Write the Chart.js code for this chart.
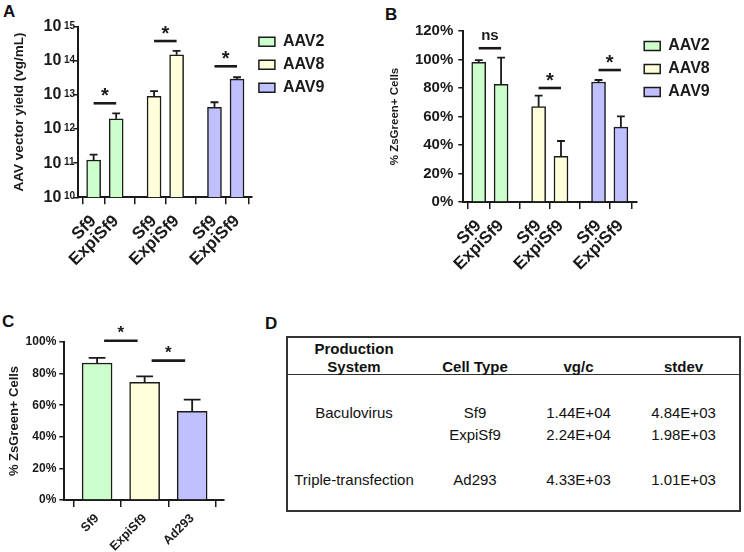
<!DOCTYPE html>
<html>
<head>
<meta charset="utf-8">
<title>AAV production in Sf9 / ExpiSf9</title>
<script src="https://cdn.jsdelivr.net/npm/chart.js@4.4.1/dist/chart.umd.min.js"></script>
<style>
  body { margin: 0; background: #fff; font-family: Arial, "Liberation Sans", sans-serif; color: #111; }
  #page { position: relative; width: 744px; height: 552px; overflow: hidden; }
  canvas { position: absolute; }
  .tag { position: absolute; font-weight: bold; font-size: 17px; line-height: 1; }
  #tableD { position: absolute; left: 286px; top: 336px; width: 451px; height: 172px; border: 2px solid #333; }
  #tableD .cell { position: absolute; font-size: 15px; white-space: nowrap; transform: translate(-50%, -50%); }
  #tableD .head { font-weight: bold; }
  #tableD .rule { position: absolute; left: 0; right: 0; top: 36px; border-top: 1.5px solid #333; }
</style>
</head>
<body>
<div id="page">
  <div class="tag" style="left:3px;top:3px">A</div>
  <div class="tag" style="left:385px;top:6px">B</div>
  <div class="tag" style="left:2px;top:313px">C</div>
  <div class="tag" style="left:265px;top:315px">D</div>
  <canvas id="chartA" width="372" height="276" style="left:0;top:0"></canvas>
  <canvas id="chartB" width="372" height="276" style="left:372px;top:0"></canvas>
  <canvas id="chartC" width="250" height="252" style="left:0;top:300px"></canvas>
  <div id="tableD"><div class="rule"></div></div>
</div>
<script>
// ---- data ----
var serotypes = ['AAV2', 'AAV8', 'AAV9'];
var cellLines = ['Sf9', 'ExpiSf9'];

// A: AAV vector yield (vg/mL), mean and SD
var yieldAAV2 = [1.24e11, 2.0e12];
var yieldAAV8 = [9.1e12, 1.5e14];
var yieldAAV9 = [4.35e12, 2.9e13];
var yieldSdAAV2 = [0.53e11, 0.9e12];
var yieldSdAAV8 = [3.9e12, 4.5e13];
var yieldSdAAV9 = [1.75e12, 0.4e13];
var yieldTicks = [1e10, 1e11, 1e12, 1e13, 1e14, 1e15];
var yieldSigLevels = [5.7e12, 3.8e14, 6.9e13];
var yieldSigLabels = ['*', '*', '*'];

// B: % ZsGreen+ cells per serotype
var pctAAV2 = [98.0, 82.6];
var pctAAV8 = [66.9, 32.1];
var pctAAV9 = [84.2, 52.6];
var pctSdAAV2 = [1.6, 18.7];
var pctSdAAV8 = [7.7, 10.7];
var pctSdAAV9 = [1.4, 7.5];
var pctSigLevels = [107.9, 80, 92.6];
var pctSigLabels = ['ns', '*', '*'];

// C: % ZsGreen+ cells per cell type
var cellTypes = ['Sf9', 'ExpiSf9', 'Ad293'];
var cellPct = [86.7, 74.5, 56.1];
var cellPctSd = [3.2, 3.8, 7.4];
var cellSigPairs = [[0, 1], [1, 2]];
var cellSigLevels = [100.8, 88.2];

// D: vector genomes per cell
var tableHeads = ['Cell Type', 'vg/c', 'stdev'];
var tableSystems = ['Baculovirus', '', 'Triple-transfection'];
var tableCells = ['Sf9', 'ExpiSf9', 'Ad293'];
var tableVgc = ['1.44E+04', '2.24E+04', '4.33E+03'];
var tableStdev = ['4.84E+03', '1.98E+03', '1.01E+03'];

// ---- styling ----
var FONT = 'Arial, "Liberation Sans", sans-serif';
var INK = '#1a1a1a';
var fills = ['#ccffcc', '#ffffdc', '#c0c0ff'];
var GROUP_STEP = 2.68;

Chart.defaults.font.family = FONT;
Chart.defaults.color = INK;

// bar positions on a linear x axis: two bars per serotype, wider gap between groups
var groupPositions = [];
serotypes.forEach(function(s, g) {
    cellLines.forEach(function(c, k) { groupPositions.push(g * GROUP_STEP + k); });
});
var groupLabels = [];
serotypes.forEach(function() { groupLabels = groupLabels.concat(cellLines); });

function groupedDatasets(means, sds) {
    return serotypes.map(function(name, g) {
        return {
            label: name,
            data: cellLines.map(function(c, k) { return { x: g * GROUP_STEP + k, y: means[g][k] }; }),
            errors: sds[g],
            backgroundColor: fills[g],
            borderColor: INK,
            borderWidth: 1.5,
            barThickness: 14,
            grouped: false
        };
    });
}

function xScale(min, max, positions, labels, fontSize, height, pad) {
    return {
        type: 'linear', min: min, max: max, offset: false,
        afterBuildTicks: function(s) { s.ticks = positions.map(function(v) { return { value: v }; }); },
        afterFit: function(s) { s.height = height; },
        ticks: {
            autoSkip: false, minRotation: 45, maxRotation: 45, padding: pad, color: INK,
            font: { size: fontSize, weight: 'bold' },
            callback: function(v, i) { return labels[i]; }
        },
        grid: { drawOnChartArea: false, drawTicks: true, tickLength: 7, color: INK, lineWidth: 1.5 },
        border: { color: INK, width: 2 }
    };
}

var yGrid = { drawOnChartArea: false, drawTicks: true, tickLength: 5, color: INK, lineWidth: 1.5 };
var yBorder = { color: INK, width: 2 };

// upper error whiskers with caps
var errorBars = {
    id: 'errorBars',
    afterDatasetsDraw: function(chart) {
        var ctx = chart.ctx, y = chart.scales.y;
        ctx.save();
        ctx.strokeStyle = INK;
        ctx.lineWidth = 1.8;
        chart.data.datasets.forEach(function(ds, d) {
            chart.getDatasetMeta(d).data.forEach(function(bar, i) {
                var top = y.getPixelForValue(ds.data[i].y + ds.errors[i]);
                var half = bar.width * 0.28;
                ctx.beginPath();
                ctx.moveTo(bar.x, bar.y);
                ctx.lineTo(bar.x, top);
                ctx.moveTo(bar.x - half, top);
                ctx.lineTo(bar.x + half, top);
                ctx.stroke();
            });
        });
        ctx.restore();
    }
};

// significance line + label between two x positions
function sigBars(pairs, levels, labels, inset, starSize) {
    return {
        id: 'sigBars',
        afterDatasetsDraw: function(chart) {
            var ctx = chart.ctx, xs = chart.scales.x, ys = chart.scales.y;
            ctx.save();
            ctx.strokeStyle = INK;
            ctx.fillStyle = INK;
            ctx.lineWidth = 2.6;
            ctx.textAlign = 'center';
            ctx.textBaseline = 'alphabetic';
            levels.forEach(function(lv, i) {
                var x1 = xs.getPixelForValue(pairs[i][0]) + inset;
                var x2 = xs.getPixelForValue(pairs[i][1]) - inset;
                var y = ys.getPixelForValue(lv);
                ctx.beginPath();
                ctx.moveTo(x1, y);
                ctx.lineTo(x2, y);
                ctx.stroke();
                if (labels[i] === 'ns') {
                    ctx.font = 'bold 15px ' + FONT;
                    ctx.fillText('ns', (x1 + x2) / 2, y - 8);
                } else {
                    ctx.font = 'bold ' + starSize + 'px ' + FONT;
                    ctx.fillText(labels[i], (x1 + x2) / 2, y - (starSize > 18 ? 1 : 2.5));
                }
            });
            ctx.restore();
        }
    };
}

// superscript exponents next to the "10" tick labels
var exponentLabels = {
    id: 'exponentLabels',
    afterDraw: function(chart) {
        var ctx = chart.ctx, y = chart.scales.y;
        ctx.save();
        ctx.font = 'bold 10px ' + FONT;
        ctx.fillStyle = INK;
        ctx.textAlign = 'left';
        ctx.textBaseline = 'alphabetic';
        y.ticks.forEach(function(t) {
            ctx.fillText(String(Math.round(Math.log10(t.value))), y.right - 14.3, y.getPixelForValue(t.value) + 2);
        });
        ctx.restore();
    }
};

var legendOpts = {
    position: 'right', align: 'start',
    labels: { boxWidth: 16, boxHeight: 9, padding: 7, color: INK, font: { size: 16, weight: 'bold' } }
};

var pairsAB = serotypes.map(function(s, g) { return [g * GROUP_STEP, g * GROUP_STEP + 1]; });

// ---- A ----
new Chart(document.getElementById('chartA'), {
    type: 'bar',
    data: { datasets: groupedDatasets([yieldAAV2, yieldAAV8, yieldAAV9], [yieldSdAAV2, yieldSdAAV8, yieldSdAAV9]) },
    options: {
        responsive: false, animation: false,
        layout: { padding: { left: 0, top: 26.7, right: 37.6, bottom: 0 } },
        plugins: { legend: legendOpts, tooltip: { enabled: false } },
        scales: {
            x: xScale(-0.68, 7.02, groupPositions, groupLabels, 17, 78.7, 7),
            y: {
                type: 'logarithmic', min: 1e10, max: 1e15,
                afterBuildTicks: function(s) { s.ticks = yieldTicks.map(function(v) { return { value: v }; }); },
                afterFit: function(s) { s.width = 78.3; },
                ticks: { autoSkip: false, padding: 12, color: INK, font: { size: 16, weight: 'bold' }, callback: function() { return '10'; } },
                grid: yGrid, border: yBorder,
                title: { display: true, text: 'AAV vector yield (vg/mL)', color: INK, font: { size: 13.5, weight: 'bold' }, padding: { top: 11, bottom: 0 } }
            }
        }
    },
    plugins: [errorBars, sigBars(pairsAB, yieldSigLevels, yieldSigLabels, 0, 20), exponentLabels]
});

// ---- B ----
new Chart(document.getElementById('chartB'), {
    type: 'bar',
    data: { datasets: groupedDatasets([pctAAV2, pctAAV8, pctAAV9], [pctSdAAV2, pctSdAAV8, pctSdAAV9]) },
    options: {
        responsive: false, animation: false,
        layout: { padding: { left: 0, top: 31, right: 24.3, bottom: 0 } },
        plugins: { legend: legendOpts, tooltip: { enabled: false } },
        scales: {
            x: xScale(-0.69, 7.09, groupPositions, groupLabels, 17, 74, 7),
            y: {
                min: 0, max: 120,
                afterFit: function(s) { s.width = 91.3; },
                ticks: { stepSize: 20, padding: 5, color: INK, font: { size: 15, weight: 'bold' }, callback: function(v) { return v + '%'; } },
                grid: yGrid, border: yBorder,
                title: { display: true, text: '% ZsGreen+ Cells', color: INK, font: { size: 11.5, weight: 'bold' }, padding: { top: 16, bottom: 0 } }
            }
        }
    },
    plugins: [errorBars, sigBars(pairsAB, pctSigLevels, pctSigLabels, 0, 20)]
});

// ---- C ----
new Chart(document.getElementById('chartC'), {
    type: 'bar',
    data: {
        datasets: [{
            label: '% ZsGreen+ Cells',
            data: cellTypes.map(function(c, i) { return { x: i, y: cellPct[i] }; }),
            errors: cellPctSd,
            backgroundColor: fills,
            borderColor: INK,
            borderWidth: 1.5,
            barThickness: 30
        }]
    },
    options: {
        responsive: false, animation: false,
        layout: { padding: { left: 0, top: 42, right: 26, bottom: 0 } },
        plugins: { legend: { display: false }, tooltip: { enabled: false } },
        scales: {
            x: xScale(-0.69, 2.67, [0, 1, 2], cellTypes, 12.5, 52, 4),
            y: {
                min: 0, max: 100,
                afterFit: function(s) { s.width = 64.3; },
                ticks: { stepSize: 20, padding: 3, color: INK, font: { size: 12, weight: 'bold' }, callback: function(v) { return v + '%'; } },
                grid: yGrid, border: yBorder,
                title: { display: true, text: '% ZsGreen+ Cells', color: INK, font: { size: 13, weight: 'bold' }, padding: { top: 7, bottom: 0 } }
            }
        }
    },
    plugins: [errorBars, sigBars(cellSigPairs, cellSigLevels, ['*', '*'], 7, 17)]
});

// ---- D: table ----
(function() {
    var box = document.getElementById('tableD');
    var colX = [66, 187, 290.5, 395.5];
    var rowY = [73.7, 96, 141.3];
    function put(text, x, y, head) {
        if (!text) return;
        var el = document.createElement('div');
        el.className = 'cell' + (head ? ' head' : '');
        el.textContent = text;
        el.style.left = x + 'px';
        el.style.top = y + 'px';
        box.appendChild(el);
    }
    put('Production', colX[0], 9.7, true);
    put('System', colX[0], 28, true);
    tableHeads.forEach(function(h, i) { put(h, colX[i + 1], 28, true); });
    tableCells.forEach(function(c, r) {
        put(tableSystems[r], colX[0], rowY[r]);
        put(c, colX[1], rowY[r]);
        put(tableVgc[r], colX[2], rowY[r]);
        put(tableStdev[r], colX[3], rowY[r]);
    });
})();
</script>
</body>
</html>
